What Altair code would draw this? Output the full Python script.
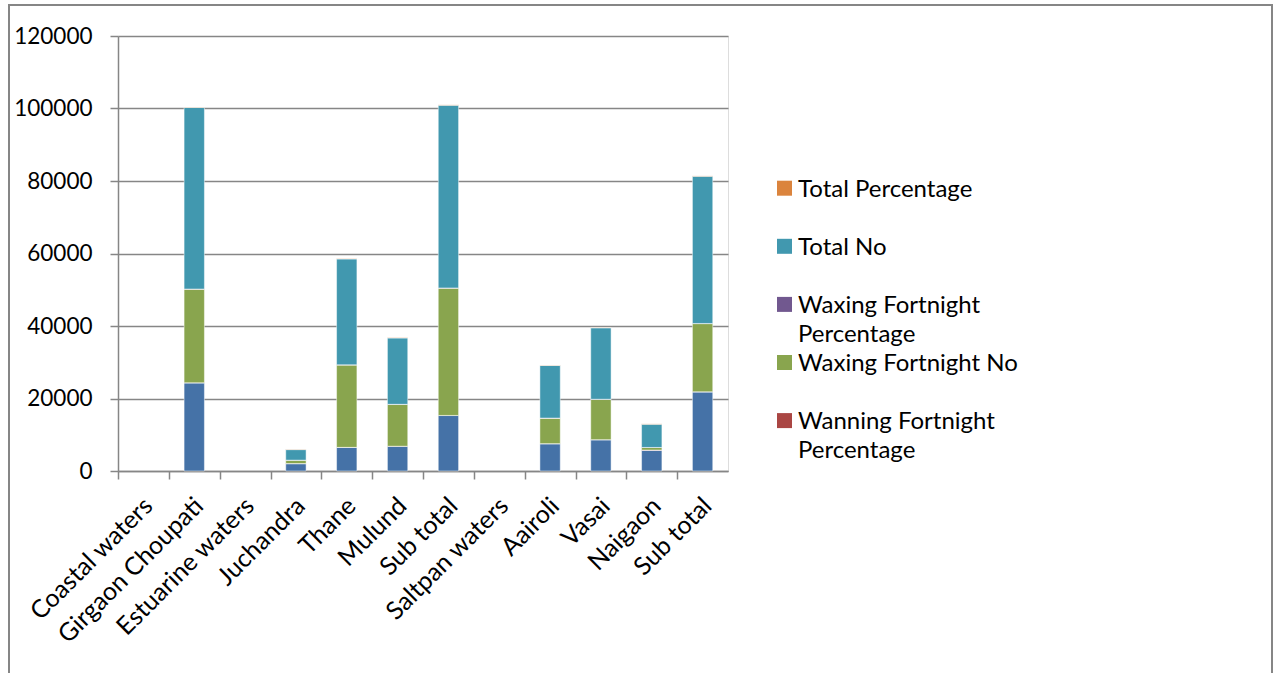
import altair as alt
import pandas as pd

categories = ["Coastal waters", "Girgaon Choupati", "Estuarine waters", "Juchandra",
              "Thane", "Mulund", "Sub total", "Saltpan waters", "Aairoli", "Vasai",
              "Naigaon", "Sub total "]

series = ["Wanning  Fortnight No", "Wanning  Fortnight Percentage",
          "Waxing  Fortnight No", "Waxing  Fortnight Percentage",
          "Total No", "Total Percentage"]

colors = ["#4572A7", "#AA4643", "#89A54E", "#71588F", "#4198AF", "#DB843D"]

wanning_no = [None, 24300, None, 2000, 6500, 6800, 15300, None, 7500, 8600, 5700, 21800]
wanning_pct = [None, 48.5, None, 69.0, 22.3, 37.2, 30.4, None, 51.7, 43.7, 89.1, 53.7]
waxing_no = [None, 25800, None, 900, 22700, 11500, 35100, None, 7000, 11100, 700, 18800]
waxing_pct = [None, 51.5, None, 31.0, 77.7, 62.8, 69.6, None, 48.3, 56.3, 10.9, 46.3]
total_no = [None, 50100, None, 2900, 29200, 18300, 50400, None, 14500, 19700, 6400, 40600]
total_pct = [None, 100, None, 100, 100, 100, 100, None, 100, 100, 100, 100]

y_ticks = [0, 20000, 40000, 60000, 80000, 100000, 120000]

# legend (as shown in the reference: reversed order, last entry clipped away)
legend_series = ["Total Percentage", "Total No", "Waxing  Fortnight Percentage",
                 "Waxing  Fortnight No", "Wanning  Fortnight Percentage"]
legend_line1 = ["Total Percentage", "Total No", "Waxing  Fortnight",
                "Waxing  Fortnight No", "Wanning  Fortnight"]
legend_line2 = ["", "", "Percentage", "", "Percentage"]

cols = [wanning_no, wanning_pct, waxing_no, waxing_pct, total_no, total_pct]
rows = []
for si, (name, vals) in enumerate(zip(series, cols)):
    for c, v in zip(categories, vals):
        if v is not None:
            rows.append({"category": c, "series": name, "order": si, "value": v})
df = pd.DataFrame(rows)

leg = pd.DataFrame({"series": legend_series, "rank": list(range(len(legend_series))),
                    "line1": legend_line1, "line2": legend_line2})

FONT = "Lato"
W, H = 610, 435
step = W / len(categories)

color_scale = alt.Scale(domain=series, range=colors)

bars = alt.Chart(df).mark_bar(stroke="white", strokeWidth=0.8, strokeOpacity=0.6).encode(
    x=alt.X("category:N", sort=categories,
            scale=alt.Scale(domain=categories, paddingInner=0.6, paddingOuter=0.3),
            axis=alt.Axis(title=None, labelAngle=-45, labelFont=FONT, labelFontSize=25,
                          labelColor="#000000", labelLimit=400,
                          labelExpr="trim(datum.label)",
                          tickOffset=-step / 2, labelOffset=step / 2 - 4,
                          tickSize=8, tickColor="#868686", tickWidth=1.5,
                          domainColor="#868686", domainWidth=1.5,
                          labelPadding=14, grid=False)),
    y=alt.Y("value:Q", stack="zero",
            scale=alt.Scale(domain=[0, 120000], nice=False),
            axis=alt.Axis(title=None, values=y_ticks, format="d", labelFont=FONT,
                          labelFontSize=22.5, labelColor="#000000", labelPadding=18,
                          tickSize=8, tickColor="#868686", tickWidth=1.5,
                          domainColor="#868686", domainWidth=1.5,
                          grid=True, gridColor="#868686", gridWidth=1.5)),
    color=alt.Color("series:N", scale=color_scale, legend=None),
    order=alt.Order("order:Q", sort="ascending"),
)

leg_y = alt.Y("rank:O", scale=alt.Scale(type="point", range=[152.2, 384.6], padding=0),
              axis=None)

leg_sym = alt.Chart(leg).mark_square(size=225, opacity=1, clip=False).encode(
    x=alt.value(666.5), y=leg_y,
    color=alt.Color("series:N", scale=color_scale, legend=None),
)
leg_txt1 = alt.Chart(leg).mark_text(align="left", baseline="alphabetic", dy=8.5,
                                    font=FONT, fontSize=24, color="#000000",
                                    clip=False).encode(
    x=alt.value(680), y=leg_y, text="line1:N")
leg_txt2 = alt.Chart(leg).mark_text(align="left", baseline="alphabetic", dy=8.5 + 29,
                                    font=FONT, fontSize=24, color="#000000",
                                    clip=False).encode(
    x=alt.value(680), y=leg_y, text="line2:N")

legend_layer = alt.layer(leg_sym, leg_txt1, leg_txt2)

frame = alt.Chart(alt.Data(values=[{"a": 1}])).mark_rect(
    fillOpacity=0, stroke="#868686", strokeWidth=2, clip=False
).encode(
    x=alt.value(-109), x2=alt.value(1154), y=alt.value(-31), y2=alt.value(700)
)

chart = alt.layer(frame, bars, legend_layer).resolve_scale(y="independent").properties(
    width=W, height=H,
    autosize=alt.AutoSizeParams(type="none"),
    padding={"left": 118, "top": 36, "right": 546, "bottom": 202},
).configure_view(stroke=None).configure(background="white")

chart.save("out.html", embed_options={"renderer": "svg", "actions": False})
